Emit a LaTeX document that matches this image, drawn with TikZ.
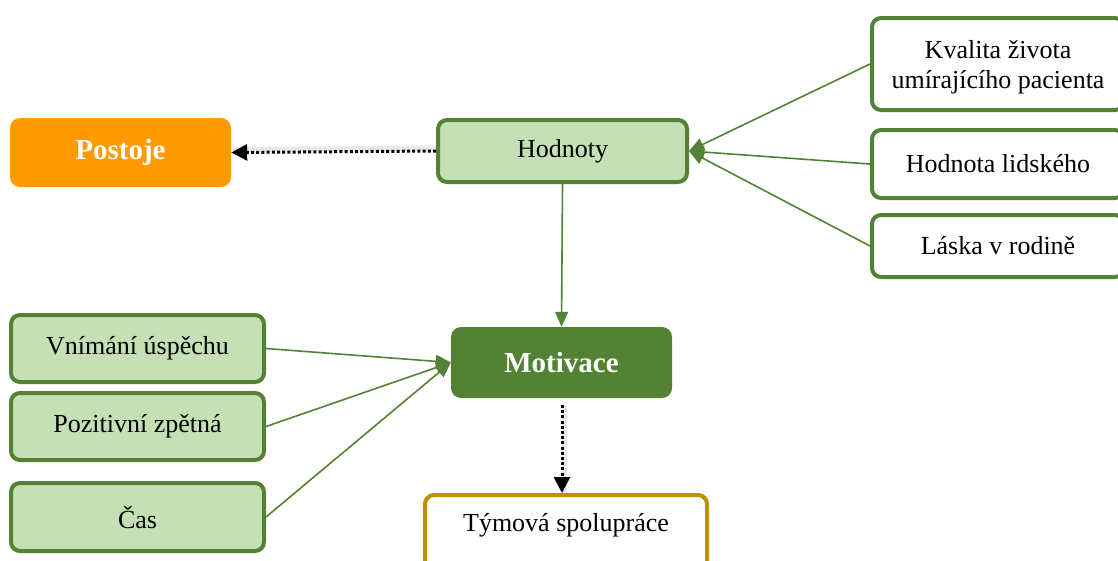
\documentclass[tikz,border=0pt]{standalone}
\usepackage{fontspec}
\setmainfont{Liberation Serif}
\usetikzlibrary{arrows.meta}
\definecolor{dgreen}{HTML}{548235}
\definecolor{lgreen}{HTML}{C5E0B4}
\definecolor{orng}{HTML}{FF9A00}
\definecolor{gold}{HTML}{BF9000}
\tikzset{
  box/.style={rectangle, rounded corners=9pt, inner sep=0pt, align=center,
    font=\fontsize{26}{30}\selectfont, text=black},
  lbox/.style={box, draw=dgreen, line width=4pt, fill=lgreen},
  wbox/.style={box, draw=dgreen, line width=4pt, fill=white},
  garrow/.style={draw=dgreen, line width=1.6pt, -{Triangle[length=15pt,width=13pt]}},
  darrow/.style={draw=black, line width=3pt, dash pattern=on 3pt off 2.2pt,
    -{Triangle[length=16pt,width=16pt]}},
  dshadow/.style={draw=black!25, line width=5pt, opacity=0.35},
}
\begin{document}
\begin{tikzpicture}[x=1pt,y=-1pt]
\useasboundingbox (0,0) rectangle (1118,560);
\clip (0,0) rectangle (1118,560);
\fill[white] (0,0) rectangle (1118,560);
% right boxes
\node[wbox, minimum width=252pt, minimum height=92pt] (kv) at (998,64) {};
\node[align=center, inner sep=0pt, font=\fontsize{26}{30}\selectfont] (kvt) at (998,67) {Kvalita života\\umírajícího pacienta};
\node[wbox, minimum width=252pt, minimum height=68pt] (hl) at (998,164) {Hodnota lidského};
\node[wbox, minimum width=252pt, minimum height=62pt] (la) at (998,246) {Láska v rodině};
% center
\node[lbox, minimum width=249pt, minimum height=62pt] (hod) at (562.5,151) {Hodnoty};
\node[box, fill=orng, rounded corners=10pt, minimum width=221pt, minimum height=69pt,
  text=white, font=\fontsize{29}{32}\selectfont\bfseries] (pos) at (120.5,152.5) {Postoje};
\node[box, fill=dgreen, rounded corners=10pt, minimum width=221pt, minimum height=71pt,
  text=white, font=\fontsize{29}{32}\selectfont\bfseries] (mot) at (561.5,362.5) {Motivace};
% left boxes
\node[lbox, minimum width=253pt, minimum height=67pt] (vn) at (137.5,348.5) {Vnímání úspěchu};
\node[lbox, minimum width=253pt, minimum height=67pt] (po) at (137.5,426.5) {Pozitivní zpětná};
\node[lbox, minimum width=253pt, minimum height=68pt] (ca) at (137.5,517) {Čas};
% bottom
\node[box, draw=gold, line width=4pt, fill=white, minimum width=282pt, minimum height=90pt,
  anchor=north] (ty) at (566,493) {};
\node[font=\fontsize{26}{30}\selectfont] (tyt) at (566,525) {Týmová spolupráce};
% connectors
\draw[garrow] (kv.west) -- (hod.east);
\draw[garrow] (hl.west) -- (hod.east);
\draw[garrow] (la.west) -- (hod.east);
\draw[garrow] (hod.south) -- (mot.north);
\draw[garrow] (vn.east) -- (mot.west);
\draw[garrow] (po.east) -- (mot.west);
\draw[garrow] (ca.east) -- (mot.west);
\coordinate (ms) at (562,405);
\coordinate (me) at (562,493);
\draw[dshadow] ([yshift=3pt]hod.west) -- ([xshift=2pt,yshift=3pt]pos.east);
\draw[dshadow] ([xshift=2pt]ms) -- ([xshift=2pt]me);
\draw[darrow] (hod.west) -- (pos.east);
\draw[darrow] (ms) -- (me);
\end{tikzpicture}
\end{document}
